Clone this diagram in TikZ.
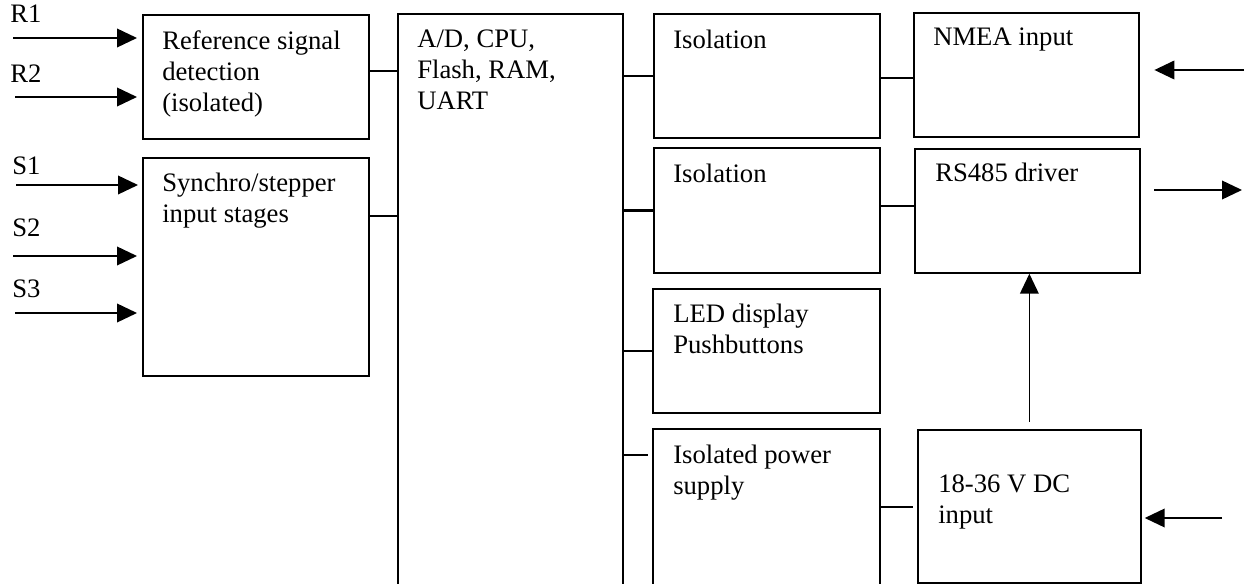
\documentclass[tikz,border=0pt]{standalone}
\usepackage{fontspec}
\setmainfont{Liberation Serif}
\usetikzlibrary{arrows.meta, positioning}
\tikzstyle{box} = [draw, line width=1.3pt, rectangle, inner sep=0pt, anchor=north west]
\tikzstyle{txt} = [inner sep=0pt, anchor=base west, font=\fontsize{20}{23}\selectfont]
\tikzstyle{wire} = [line width=1.9pt]
\tikzstyle{thinwire} = [line width=1.1pt]
\tikzstyle{sig} = [line width=1.2pt, -{Triangle[length=15pt,width=14pt]}]
\newcommand{\boxtext}[1]{\begin{tabular}[t]{@{}l@{}}#1\end{tabular}}

\begin{document}
\begin{tikzpicture}[x=0.75pt, y=-0.75pt]
        \clip (0,0) rectangle (1246,584);
        % blocks
        \node[box, minimum width=169.5pt, minimum height=93pt] (ref) at (142,14) {};
        \node[box, minimum width=169.5pt, minimum height=163.5pt] (syn) at (142,157) {};
        \node[box, minimum width=168.75pt, minimum height=450pt] (cpu) at (397,13) {};
        \node[box, minimum width=169.5pt, minimum height=93pt] (iso1) at (653,13) {};
        \node[box, minimum width=169.5pt, minimum height=93.75pt] (iso2) at (653,147) {};
        \node[box, minimum width=170.25pt, minimum height=93pt] (led) at (652,288) {};
        \node[box, minimum width=170.25pt, minimum height=150pt] (pwr) at (652,428) {};
        \node[box, minimum width=168.75pt, minimum height=93pt] (nmea) at (913,12) {};
        \node[box, minimum width=168.75pt, minimum height=93pt] (rs) at (914,148) {};
        \node[box, minimum width=167.25pt, minimum height=114.75pt] (dc) at (917,429) {};

        % block texts
        \node[txt] (reft) at ([shift={(20,36)}]ref.north west) {\boxtext{Reference signal\\detection\\(isolated)}};
        \node[txt] (synt) at ([shift={(20,35)}]syn.north west) {\boxtext{Synchro/stepper\\input stages}};
        \node[txt] (cput) at ([shift={(20,35)}]cpu.north west) {\boxtext{A/D, CPU,\\Flash, RAM,\\UART}};
        \node[txt] (iso1t) at ([shift={(20,36)}]iso1.north west) {Isolation};
        \node[txt] (iso2t) at ([shift={(20,36)}]iso2.north west) {Isolation};
        \node[txt] (ledt) at ([shift={(21,35)}]led.north west) {\boxtext{LED display\\Pushbuttons}};
        \node[txt] (pwrt) at ([shift={(21,36)}]pwr.north west) {\boxtext{Isolated power\\supply}};
        \node[txt] (nmeat) at ([shift={(20,34)}]nmea.north west) {NMEA input};
        \node[txt] (rst) at ([shift={(21,34)}]rs.north west) {RS485 driver};
        \node[txt] (dct) at ([shift={(21,64)}]dc.north west) {\boxtext{18-36 V DC\\input}};

        % input labels
        \node[txt] (r1) at (10,23) {R1};
        \node[txt] (r2) at (10,83) {R2};
        \node[txt] (s1) at (12,175) {S1};
        \node[txt] (s2) at (12,237) {S2};
        \node[txt] (s3) at (12,298) {S3};
        \coordinate (r1in) at (13,38);
        \coordinate (r2in) at (15,97);
        \coordinate (s1in) at (16,185);
        \coordinate (s2in) at (13,256);
        \coordinate (s3in) at (15,313);
        \coordinate (nmeain) at (1244,70);
        \coordinate (rsout) at (1242,190);
        \coordinate (dcin) at (1222,518);

        % input arrows
        \draw[sig, shorten >=3.75pt] (r1in) -- (r1in -| ref.west);
        \draw[sig, shorten >=3.75pt] (r2in) -- (r2in -| ref.west);
        \draw[sig, shorten >=3pt] (s1in) -- (s1in -| syn.west);
        \draw[sig, shorten >=3.75pt] (s2in) -- (s2in -| syn.west);
        \draw[sig, shorten >=3.75pt] (s3in) -- (s3in -| syn.west);
        \draw[sig, shorten >=11pt] (nmeain) -- (nmeain -| nmea.east);
        \draw[sig, shorten <=10pt] (rsout -| rs.east) -- (rsout);
        \draw[sig, shorten >=2.25pt] (dcin) -- (dcin -| dc.east);
        \draw[sig, shorten <=5.25pt] (dc.north) -- (dc.north |- rs.south);

        % links
        \draw[wire] (ref.east |- 0,71) -- (cpu.west |- 0,71);
        \draw[wire] (syn.east |- 0,216) -- (cpu.west |- 0,216);
        \draw[wire] (cpu.east |- iso1.west) -- (iso1.west);
        \draw[wire] (cpu.east |- iso2.west) -- (iso2.west);
        \draw[wire] (cpu.east |- led.west) -- (led.west);
        \draw[thinwire, shorten >=3pt] (cpu.east |- 0,455) -- (pwr.west |- 0,455);
        \draw[wire] (iso1.east |- 0,78) -- (nmea.west |- 0,78);
        \draw[wire] (iso2.east |- 0,206) -- (rs.west |- 0,206);
        \draw[thinwire, shorten >=3pt] (pwr.east |- 0,507) -- (dc.west |- 0,507);
\end{tikzpicture}
\end{document}
